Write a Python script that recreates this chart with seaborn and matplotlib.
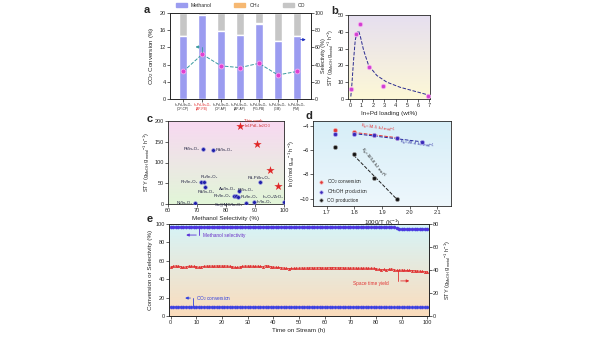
import numpy as np
import pandas as pd
import seaborn as sns
import matplotlib
matplotlib.use("Agg")
import matplotlib.pyplot as plt
from matplotlib.patches import Patch

# ---------------- data ----------------
# panel a
a_labels = ["In\u2081Pd\u2081/In\u2082O\u2083\n(CP-CP)", "In\u2081Pd\u2081/In\u2082O\u2083\n(AP-PB)",
            "In\u2081Pd\u2081/In\u2082O\u2083\n(CP-AP)", "In\u2081Pd\u2081/In\u2082O\u2083\n(AP-AP)",
            "In\u2081Pd\u2081/In\u2082O\u2083\n(PG-PB)", "In\u2081Pd\u2081/In\u2082O\u2083\n(GM)",
            "In\u2081Pd\u2081/In\u2082O\u2083\n(PM)"]
a_methanol = [72.8, 97.5, 78.6, 74.7, 87.5, 67.7, 72.8]
a_ch4 = [0.3, 0.2, 0.3, 0.3, 0.3, 0.3, 0.3]
a_co = [26.9, 2.3, 21.1, 25.0, 12.2, 32.0, 26.9]
a_conversion = [6.4, 10.4, 7.7, 7.3, 8.3, 5.6, 6.4]

# panel b
b_loading = [0.06, 0.5, 0.82, 1.62, 2.88, 6.9]
b_sty = [5.8, 38.9, 44.4, 18.8, 7.7, 2.0]
b_fit_x = [0.05, 0.15, 0.29, 0.44, 0.59, 0.74, 0.9, 1.18, 1.62, 2.35, 3.24, 4.4, 5.6, 6.9]
b_fit_y = [1.5, 9.3, 23.0, 35.0, 39.5, 40.5, 37.0, 29.0, 20.0, 14.0, 10.0, 7.0, 4.8, 2.4]

# panel c
c_work_sel = [84.9, 90.8, 95.3, 97.9]
c_work_sty = [189, 144, 82, 44]
c_lit_names = ["Pt/In\u2082O\u2083", "Pd/In\u2082O\u2083", "Rh/In\u2082O\u2083", "Ru/In\u2082O\u2083",
               "Pd/In\u2082O\u2083", "Ni/In\u2082O\u2083", "Rh/In\u2082O\u2083", "Pt/In\u2082O\u2083",
               "Ru/In\u2082O\u2083", "Au/In\u2082O\u2083", "Pd-Pt/In\u2082O\u2083", "Sn@MC/In\u2082O\u2083",
               "In/In\u2082O\u2083", "In\u2082O\u2083/ZrO\u2082"]
c_lit_sel = [72.0, 75.4, 71.5, 72.5, 72.6, 69.4, 82.6, 83.4, 84.2, 84.4, 91.7, 86.8, 89.7, 100.0]
c_lit_sty = [132, 130, 52, 54, 40, 2.4, 20, 20, 17.5, 31, 52, 2.4, 5, 5]

# panel d
d_invT = [1.730, 1.797, 1.872, 1.955, 2.045]
d_co2 = [-4.35, -4.54, -4.74, -4.98]
d_meoh = [-4.70, -4.70, -4.76, -5.03, -5.36]
d_co = [-5.71, -6.33, -8.29, -10.0]

# panel e
e_time = list(range(101))
e_selectivity = [96.8, 96.8, 96.8, 96.8, 96.8, 96.8, 96.8, 96.8, 96.8, 96.8,
                 96.8, 96.8, 96.8, 96.8, 96.8, 96.8, 96.8, 96.8, 96.8, 96.8,
                 96.8, 96.8, 96.8, 96.8, 96.8, 96.8, 96.8, 96.8, 96.8, 96.8,
                 96.8, 96.8, 96.8, 96.8, 96.8, 96.8, 96.8, 96.8, 96.8, 96.8,
                 96.8, 96.8, 96.8, 96.8, 96.8, 96.6, 96.6, 96.6, 96.6, 96.6,
                 96.6, 96.6, 96.6, 96.6, 96.6, 96.6, 96.6, 96.6, 96.6, 96.6,
                 96.6, 96.6, 96.6, 96.6, 96.6, 96.6, 96.6, 96.6, 96.6, 96.6,
                 96.6, 96.6, 96.6, 96.6, 96.6, 96.6, 96.6, 96.6, 96.6, 96.6,
                 96.6, 96.6, 96.6, 96.6, 96.6, 96.6, 96.6, 96.5, 95.5, 94.6,
                 94.5, 94.5, 94.5, 94.5, 94.5, 94.5, 94.5, 94.5, 94.5, 94.5, 94.5]
e_sty = [42.6, 43.2, 43.6, 43.4, 43.0, 42.3, 42.8, 43.3, 43.4, 43.2,
         43.0, 42.4, 42.8, 43.2, 43.4, 43.5, 43.5, 43.4, 43.6, 43.6,
         43.5, 43.6, 43.5, 43.3, 43.0, 42.4, 42.2, 42.7, 43.2, 43.5,
         43.4, 43.5, 43.4, 43.2, 43.4, 43.1, 42.8, 43.8, 43.6, 43.0,
         42.6, 42.4, 42.3, 42.0, 41.8, 41.5, 41.3, 41.4, 41.5, 41.6,
         41.6, 41.8, 41.7, 41.8, 41.9, 41.9, 41.8, 41.9, 42.0, 41.9,
         41.8, 41.9, 42.0, 42.1, 42.0, 41.9, 42.0, 41.9, 41.8, 41.8,
         41.7, 41.8, 41.7, 41.6, 41.7, 41.6, 41.7, 41.6, 41.5, 41.6,
         41.2, 40.6, 40.2, 40.5, 40.0, 40.6, 41.0, 40.4, 39.6, 39.8,
         40.0, 39.8, 39.6, 39.7, 39.5, 39.4, 39.2, 39.0, 38.8, 38.5, 38.6]
e_conversion = [10.1, 10.1, 10.1, 10.1, 10.1, 10.1, 10.1, 10.1, 10.1, 10.1,
                10.1, 10.1, 10.1, 10.1, 10.1, 10.1, 10.1, 10.1, 10.1, 10.1,
                10.1, 10.1, 10.1, 10.1, 10.1, 10.1, 10.1, 10.1, 10.1, 10.1,
                10.1, 10.1, 10.1, 10.1, 10.1, 10.1, 10.1, 10.1, 10.1, 10.1,
                10.0, 10.0, 10.0, 10.0, 10.0, 10.0, 10.0, 10.0, 10.0, 10.0,
                10.0, 10.0, 10.0, 10.0, 10.0, 10.0, 10.0, 10.0, 10.0, 10.0,
                10.0, 10.0, 10.0, 10.0, 10.0, 10.0, 10.0, 10.0, 10.0, 10.0,
                10.0, 10.0, 10.0, 10.0, 10.0, 10.0, 10.0, 10.0, 10.0, 10.0,
                9.7, 9.6, 9.6, 9.6, 9.6, 9.6, 9.6, 9.6, 9.5, 9.5,
                9.5, 9.5, 9.5, 9.5, 9.5, 9.5, 9.5, 9.5, 9.5, 9.5, 9.5]

# ---------------- style ----------------
sns.set_theme(style="ticks")
plt.rcParams["font.family"] = ["Liberation Sans", "DejaVu Sans"]
plt.rcParams["mathtext.default"] = "regular"
plt.rcParams.update({
    "axes.linewidth": 0.6, "xtick.major.width": 0.5, "ytick.major.width": 0.5,
    "xtick.major.size": 2, "ytick.major.size": 2, "xtick.labelsize": 4,
    "ytick.labelsize": 4, "axes.labelsize": 4.5, "xtick.major.pad": 1,
    "ytick.major.pad": 1, "axes.labelpad": 2.0,
})

W, H = 600, 338
fig = plt.figure(figsize=(6, 3.38), dpi=100)


def box(x0, y0, x1, y1):
    return [x0 / W, 1 - y1 / H, (x1 - x0) / W, (y1 - y0) / H]


def gradient(ax, top, bottom):
    c1 = np.array(matplotlib.colors.to_rgb(top))
    c2 = np.array(matplotlib.colors.to_rgb(bottom))
    t = np.linspace(0, 1, 256)[:, None]
    img = (c1 * (1 - t) + c2 * t)[:, None, :]
    ax.imshow(img, extent=[0, 1, 0, 1], transform=ax.transAxes, aspect="auto",
              zorder=-10, interpolation="bilinear")


def plabel(x, y, s):
    fig.text(x / W, 1 - y / H, s, fontsize=8, fontweight="bold", ha="left", va="center")

# ---------------- panel a ----------------
axa = fig.add_axes(box(170, 13, 311, 99))
pos = list(range(len(a_labels)))
tot = [m + c + o for m, c, o in zip(a_methanol, a_ch4, a_co)]
mc = [m + c for m, c in zip(a_methanol, a_ch4)]
sns.barplot(x=pos, y=tot, ax=axa, color="#c6c6c6", width=0.4, saturation=1, errorbar=None)
sns.barplot(x=pos, y=mc, ax=axa, color="#f6b872", width=0.4, saturation=1, errorbar=None)
sns.barplot(x=pos, y=a_methanol, ax=axa, color="#9b9cf0", width=0.4, saturation=1, errorbar=None)
axa.set_ylim(0, 100)
axa.set_xlim(-0.7, 6.75)
axa.set_xticks(pos)
axa.set_xticklabels(a_labels, fontsize=2.3, linespacing=1.0)
axa.get_xticklabels()[1].set_color("#e02020")
axa.set_xlabel("")
axa2 = axa.twinx()
# bars axis (selectivity) on the right, line axis (conversion) on the left
axa.yaxis.tick_right()
axa.yaxis.set_label_position("right")
axa.set_yticks([0, 20, 40, 60, 80, 100])
axa.tick_params(axis="y", pad=0.5, labelsize=3.8)
axa.set_ylabel("Selectivity (%)", fontsize=4.0)
axa.yaxis.set_label_coords(1.068, 0.5)
axa2.yaxis.tick_left()
axa2.yaxis.set_label_position("left")
sns.lineplot(x=pos, y=a_conversion, ax=axa2, color="#3a9aa0", linestyle="--", lw=0.7,
             marker="o", markersize=3.5, markerfacecolor="#e040d0", markeredgecolor="#f6a8f0",
             markeredgewidth=0.6)
axa2.set_ylim(0, 20)
axa2.set_yticks([0, 4, 8, 12, 16, 20])
axa2.set_ylabel("CO$_2$ Conversion (%)", labelpad=2.5)
axa2.plot([1.0, 1.0], [11.0, 12.1], color="#3a9aa0", lw=0.6)
axa2.annotate("", xy=(0.5, 12.1), xytext=(1.0, 12.1),
              arrowprops=dict(arrowstyle="-|>", color="#3a9aa0", lw=0.6, mutation_scale=4))
axa2.annotate("", xy=(6.62, 13.8), xytext=(6.05, 13.8),
              arrowprops=dict(arrowstyle="-|>", color="#2030c0", lw=0.6, mutation_scale=4))
handles = [Patch(color="#9b9cf0", label="Methanol"), Patch(color="#f6b872", label="CH$_4$"),
           Patch(color="#c6c6c6", label="CO")]
axa.legend(handles=handles, ncol=3, loc="lower center", bbox_to_anchor=(0.5, 1.0),
           frameon=False, fontsize=3.6, handlelength=2.2, handleheight=0.8,
           columnspacing=4.5, borderaxespad=0.2)
plabel(144, 10, "a")

# ---------------- panel b ----------------
axb = fig.add_axes(box(348, 15, 430, 99))
gradient(axb, "#e6dff0", "#fdf8d6")
sns.lineplot(x=b_fit_x, y=b_fit_y, ax=axb, color="#2a2a90", linestyle="--", lw=0.7, sort=False)
sns.scatterplot(x=b_loading, y=b_sty, ax=axb, color="#d040d0", edgecolor="#f6a8f0",
                s=10, linewidth=0.6, zorder=3)
axb.set_xlim(-0.2, 7.05)
axb.set_ylim(0, 50)
axb.set_xticks(range(8))
axb.set_yticks([0, 10, 20, 30, 40, 50])
axb.set_xlabel("In+Pd loading (wt%)")
axb.set_ylabel("STY (g$_{MeOH}$ g$_{metal}$$^{-1}$ h$^{-1}$)", fontsize=3.8)
axb.yaxis.set_label_coords(-0.142, 0.5)
plabel(331, 11, "b")

# ---------------- panel c ----------------
axc = fig.add_axes(box(168, 121, 284, 204))
gradient(axc, "#f8d8f2", "#e2f6d8")
sns.scatterplot(x=c_lit_sel, y=c_lit_sty, ax=axc, color="#2020a8", edgecolor="#9090e0",
                s=7, linewidth=0.4, zorder=3)
sns.scatterplot(x=c_work_sel, y=c_work_sty, ax=axc, color="#e02828", marker="*",
                s=40, linewidth=0, zorder=3)
axc.set_xlim(60, 100)
axc.set_ylim(0, 200)
axc.set_xticks([60, 70, 80, 90, 100])
axc.set_yticks([0, 50, 100, 150, 200])
axc.set_xlabel("Methanol Selectivity (%)")
axc.set_ylabel("STY (g$_{MeOH}$ g$_{metal}$$^{-1}$ h$^{-1}$)", fontsize=4)
fs = 3.2
lab_off = {0: (-1.0, 0, "right"), 1: (1.0, 0, "left"), 2: (-1.0, 0, "right"),
           3: (-1.2, 12, "left"), 4: (-2.2, -10, "left"), 5: (-1.0, 0, "right"),
           6: (-1.0, 0, "right"), 7: (0.6, 13, "left"), 8: (1.0, 0, "left"),
           9: (-0.9, 4, "right"), 10: (-4.3, 10, "left"), 11: (-1.0, -4, "right"),
           12: (0.9, -1, "left"), 13: (-7.2, 11, "left")}
for i, n in enumerate(c_lit_names):
    dx, dy, ha = lab_off[i]
    axc.text(c_lit_sel[i] + dx, c_lit_sty[i] + dy, n, fontsize=fs, ha=ha,
             va="center", color="#202040")
axc.text(c_work_sel[0] + 1.3, c_work_sty[0] + 3, "This work\nIn$_1$Pd$_1$-In$_2$O$_3$",
         fontsize=fs, color="#d02020", ha="left", va="center", linespacing=1.0)
plabel(147, 119, "c")

# ---------------- panel d ----------------
axd = fig.add_axes(box(313, 121, 451, 206))
gradient(axd, "#d6eef8", "#eef7fc")
sns.regplot(x=d_invT[1:4], y=d_co2[1:], ax=axd, scatter=False, ci=None, truncate=True,
            line_kws=dict(color="#e03030", ls="--", lw=0.7))
sns.regplot(x=d_invT[1:], y=d_meoh[1:], ax=axd, scatter=False, ci=None, truncate=True,
            line_kws=dict(color="#2a2aa0", ls="--", lw=0.7))
sns.regplot(x=d_invT[1:4], y=d_co[1:], ax=axd, scatter=False, ci=None, truncate=True,
            line_kws=dict(color="#202020", ls="--", lw=0.7))
sns.scatterplot(x=d_invT[:4], y=d_co2, ax=axd, color="#e03838", edgecolor="#f4b0b0", s=9,
                linewidth=0.5, zorder=3, label="CO$_2$ conversion")
sns.scatterplot(x=d_invT, y=d_meoh, ax=axd, color="#3a2ab8", edgecolor="#b0a8f0", s=9,
                linewidth=0.5, zorder=4, label="CH$_3$OH production")
sns.scatterplot(x=d_invT[:4], y=d_co, ax=axd, color="#151515", edgecolor="#a0a0a0", s=9,
                linewidth=0.5, zorder=4, label="CO production")
axd.set_xlim(1.65, 2.15)
axd.set_ylim(-10.6, -3.6)
axd.set_xticks([1.7, 1.8, 1.9, 2.0, 2.1])
axd.set_yticks([-4, -6, -8, -10])
axd.set_xlabel("1000/T (K$^{-1}$)")
axd.set_ylabel("ln (r/mol g$_{cat}$$^{-1}$ h$^{-1}$)", fontsize=4)
axd.legend(loc="lower left", frameon=False, fontsize=3.4, handletextpad=0.2,
           borderaxespad=0.3, labelspacing=0.3, markerscale=0.8)
axd.text(1.82, -4.15, "E$_a$=34.5 kJ mol$^{-1}$", fontsize=3.2, color="#e03030", rotation=-9,
         ha="left", va="center")
axd.text(1.96, -5.45, "E$_a$=28.4 kJ mol$^{-1}$", fontsize=3.2, color="#2a2aa0", rotation=-9,
         ha="left", va="center")
axd.text(1.87, -7.0, "E$_a$=105.8 kJ mol$^{-1}$", fontsize=3.2, color="#202020", rotation=-52,
         ha="center", va="center")
plabel(305, 116, "d")

# ---------------- panel e ----------------
axe = fig.add_axes(box(169, 224, 429, 316))
gradient(axe, "#d6f4f8", "#fbdcbc")
sns.lineplot(x=e_time, y=e_selectivity, ax=axe, color="#5a30d8", lw=0.6, marker="o",
             markersize=2.2, markeredgecolor="#3a40e8", markeredgewidth=0.4)
sns.lineplot(x=e_time, y=e_conversion, ax=axe, color="#3040e0", lw=0.6, marker="o",
             markersize=2.2, markeredgecolor="#6050e0", markeredgewidth=0.4)
axe.set_xlim(-0.6, 100.6)
axe.set_ylim(0, 100)
axe.set_xticks(range(0, 101, 10))
axe.set_yticks(range(0, 101, 20))
axe.set_xlabel("Time on Stream (h)")
axe.set_ylabel("Conversion or Selectivity (%)")
axe2 = axe.twinx()
sns.lineplot(x=e_time, y=e_sty, ax=axe2, color="#e03030", lw=0.6, marker="^",
             markersize=1.8, markeredgecolor="#e03030", markeredgewidth=0.3)
axe2.set_ylim(0, 80)
axe2.set_yticks(range(0, 81, 20))
axe2.set_ylabel("STY (g$_{MeOH}$ g$_{metal}$$^{-1}$ h$^{-1}$)", fontsize=4)
# annotations
axe.plot([11.1, 11.1], [88, 96.2], color="#5a30d8", lw=0.6)
axe.annotate("", xy=(5.0, 88), xytext=(11.1, 88),
             arrowprops=dict(arrowstyle="-|>", color="#5a30d8", lw=0.6, mutation_scale=4))
axe.text(12.5, 88, "Methanol selectivity", fontsize=3.4, color="#6a30c8", va="center")
axe.plot([8.8, 8.8], [10.6, 19.5], color="#3040e0", lw=0.6)
axe.annotate("", xy=(4.6, 19.5), xytext=(8.8, 19.5),
             arrowprops=dict(arrowstyle="-|>", color="#3040e0", lw=0.6, mutation_scale=4))
axe.text(10.0, 19.5, "CO$_2$ conversion", fontsize=3.4, color="#3040e0", va="center")
axe2.plot([88.5, 88.5], [30.5, 39.4], color="#e03030", lw=0.6)
axe2.annotate("", xy=(94.0, 30.5), xytext=(88.5, 30.5),
              arrowprops=dict(arrowstyle="-|>", color="#e03030", lw=0.6, mutation_scale=4))
axe2.text(78.0, 28.3, "Space time yield", fontsize=3.4, color="#e03030", va="center",
          ha="center")
plabel(147, 219, "e")

fig.savefig("out.png", dpi=100)
